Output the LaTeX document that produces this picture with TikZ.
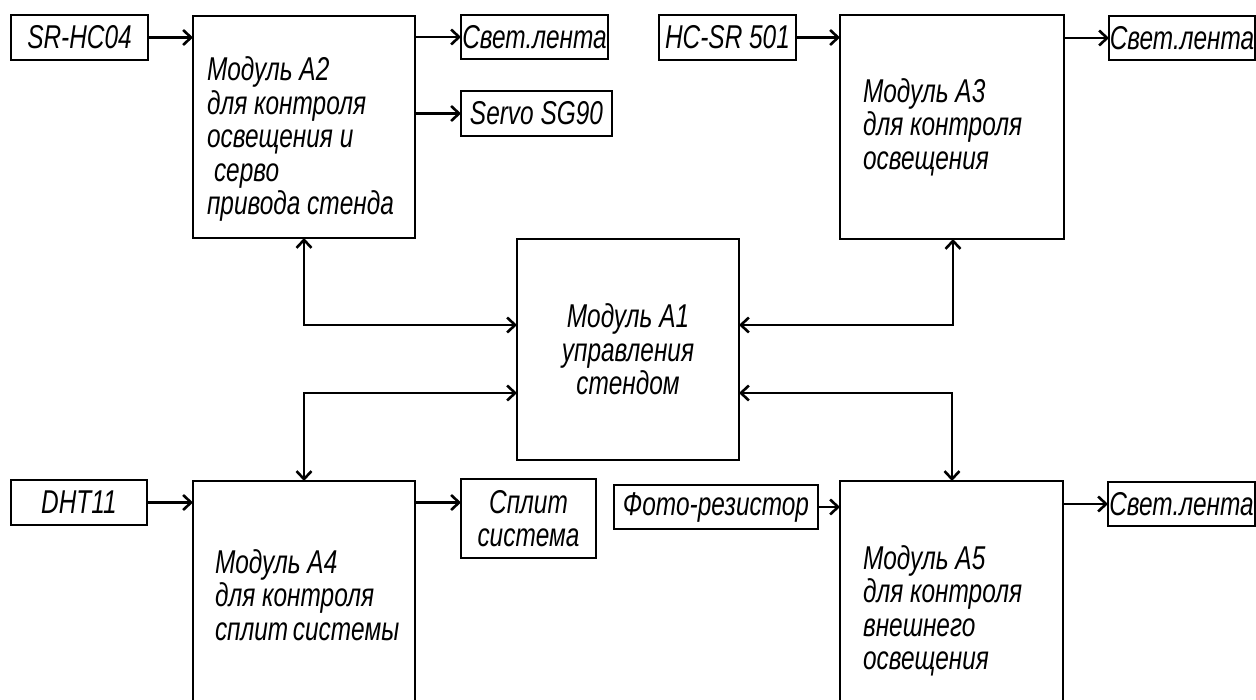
\documentclass[tikz,border=0pt]{standalone}
\usepackage{fontspec}
\newfontfamily\gost{Liberation Sans}[FakeStretch=0.74]
\usetikzlibrary{arrows.meta}
\begin{document}
\begin{tikzpicture}[x=1pt,y=-1pt,
  every node/.style={font={\gost\itshape\fontsize{33}{33.5}\selectfont}},
  box/.style={draw, line width=2.8pt, rectangle, anchor=north west, inner sep=0pt, outer sep=0pt},
  bigbox/.style={box, align=flush left},
  sbox/.style={box, align=flush center},
  conn/.style={line width=2.6pt, -{Straight Barb[length=8pt,width=15pt]}},
  bi/.style={line width=2.6pt, {Straight Barb[length=8pt,width=15pt]}-{Straight Barb[length=8pt,width=15pt]}}
]
\useasboundingbox (0,0) rectangle (1256,700);
\fill[white] (0,0) rectangle (1256,700);
\begin{scope}
\clip (0,0) rectangle (1256,700);
% top row
\node[sbox, minimum width=137pt, minimum height=45pt] (sr) at (11,15) {SR-HC04};
\node[bigbox, minimum width=222pt, minimum height=222pt, text width=194pt, inner xsep=14pt] (a2) at (193,16)
  {\rule{0pt}{48pt}Модуль~A2\\для~контроля\\освещения~и\\\hspace*{7pt}серво\\привода~стенда};
\node[sbox, minimum width=147pt, minimum height=44pt] (sv1) at (461,15) {Свет.лента};
\node[sbox, minimum width=151pt, minimum height=45pt] (servo) at (461,91) {Servo SG90};
\node[sbox, minimum width=137pt, minimum height=45pt] (hc) at (659,15) {HC-SR 501};
\node[bigbox, minimum width=224pt, minimum height=224pt, text width=178pt, inner xsep=23pt] (a3) at (840,15)
  {Модуль~A3\\для~контроля\\освещения};
\node[sbox, minimum width=146pt, minimum height=44pt] (sv2) at (1109,16) {Свет.лента};
% centre
\node[box, align=flush center, minimum width=222pt, minimum height=221pt] (a1) at (517,239)
  {Модуль A1\\управления\\стендом};
% bottom row
\node[sbox, minimum width=136pt, minimum height=45pt] (dht) at (11,480) {DHT11};
\node[bigbox, minimum width=222pt, minimum height=228pt, text width=178pt, inner xsep=22pt] (a4) at (193,481)
  {Модуль~A4\\для~контроля\\сплит~системы};
\node[sbox, minimum width=135pt, minimum height=79pt, text width=135pt] (split) at (461,479) {Сплит\\система};
\node[sbox, minimum width=204pt, minimum height=44pt] (foto) at (614,485) {Фото-резистор};
\node[bigbox, minimum width=223pt, minimum height=260pt, text width=177pt, inner xsep=23pt] (a5) at (840,481)
  {Модуль~A5\\для~контроля\\внешнего\\освещения};
\node[sbox, minimum width=147pt, minimum height=44pt] (sv3) at (1108,482) {Свет.лента};
% bus coordinates
\coordinate (L1) at (304,325);
\coordinate (L2) at (304,393);
\coordinate (R1) at (953,325);
\coordinate (R2) at (952,393);
% connectors
\draw[conn] (sr.east) -- (sr.east -| a2.west);
\draw[conn] (sv1.west -| a2.east) -- (sv1.west);
\draw[conn] (servo.west -| a2.east) -- (servo.west);
\draw[conn] (hc.east) -- (hc.east -| a3.west);
\draw[conn] (sv2.west -| a3.east) -- (sv2.west);
\draw[conn] (dht.east) -- (dht.east -| a4.west);
\draw[conn] (dht.east -| a4.east) -- (dht.east -| split.west);
\draw[conn] (foto.east) -- (foto.east -| a5.west);
\draw[conn] (sv3.west -| a5.east) -- (sv3.west);
\draw[bi] (a2.south -| L1) |- (a1.west |- L1);
\draw[bi] (a4.north -| L2) |- (a1.west |- L2);
\draw[bi] (a3.south -| R1) |- (a1.east |- R1);
\draw[bi] (a5.north -| R2) |- (a1.east |- R2);
\end{scope}
\end{tikzpicture}
\end{document}
